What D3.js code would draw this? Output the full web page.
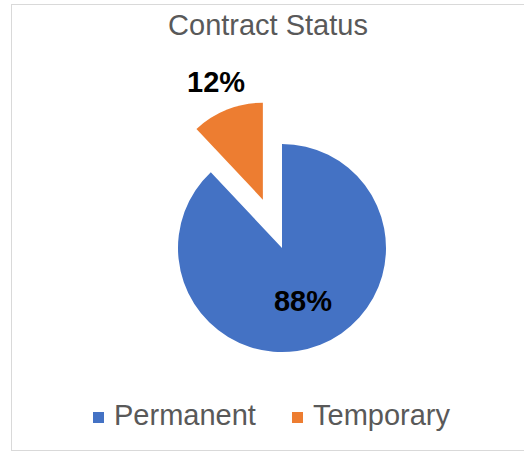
<!DOCTYPE html>
<html>
<head>
<meta charset="utf-8">
<script src="https://cdn.jsdelivr.net/npm/d3@7"></script>
<style>
  body { margin: 0; background: #fff; }
  svg { display: block; font-family: "Liberation Sans", Arial, sans-serif; }
</style>
</head>
<body>
<div id="chart"></div>
<script>
// chart data
const categories = ["Permanent", "Temporary"];
const shares = [0.88, 0.12];
const sliceLabels = ["88%", "12%"];
const colors = ["#4472C4", "#ED7D31"];

const width = 524, height = 452;
const cx = 282, cy = 248, radius = 104;

const svg = d3.select("#chart").append("svg")
    .attr("width", width)
    .attr("height", height);

// chart frame
svg.append("rect")
    .attr("x", 11.5).attr("y", 4.5)
    .attr("width", 530).attr("height", 446)
    .attr("fill", "#fff")
    .attr("stroke", "#d9d9d9")
    .attr("stroke-width", 1);

svg.append("text")
    .attr("x", 268).attr("y", 35)
    .attr("text-anchor", "middle")
    .attr("font-size", 29)
    .attr("fill", "#595959")
    .text("Contract Status");

const pie = d3.pie().sort(null).value(d => d.value);
const arcs = pie(categories.map((c, i) => ({ name: c, value: shares[i], i })));

// Temporary slice is pulled out and drawn a little smaller
const explode = [0, 52];
const sliceR = [radius, 97];
const labelR = [57, 127];

const g = svg.append("g").attr("transform", `translate(${cx},${cy})`);

const slices = g.selectAll("g.slice")
    .data(arcs)
    .join("g")
    .attr("class", "slice")
    .attr("transform", d => {
        const mid = (d.startAngle + d.endAngle) / 2;
        const k = explode[d.data.i];
        return `translate(${Math.sin(mid) * k},${-Math.cos(mid) * k})`;
    });

slices.append("path")
    .attr("d", d => d3.arc().innerRadius(0).outerRadius(sliceR[d.data.i])(d))
    .attr("fill", d => colors[d.data.i]);

slices.append("text")
    .attr("x", d => Math.sin((d.startAngle + d.endAngle) / 2) * labelR[d.data.i])
    .attr("y", d => -Math.cos((d.startAngle + d.endAngle) / 2) * labelR[d.data.i])
    .attr("dy", "0.36em")
    .attr("text-anchor", "middle")
    .attr("font-size", 29)
    .attr("font-weight", "bold")
    .attr("fill", "#000")
    .text(d => sliceLabels[d.data.i]);

// legend
const legendX = [93, 292];
const legend = svg.selectAll("g.legend")
    .data(categories)
    .join("g")
    .attr("class", "legend")
    .attr("transform", (d, i) => `translate(${legendX[i]},412)`);

legend.append("rect")
    .attr("width", 11).attr("height", 11)
    .attr("fill", (d, i) => colors[i]);

legend.append("text")
    .attr("x", 21).attr("y", 12.5)
    .attr("font-size", 29)
    .attr("fill", "#595959")
    .text(d => d);
</script>
</body>
</html>
